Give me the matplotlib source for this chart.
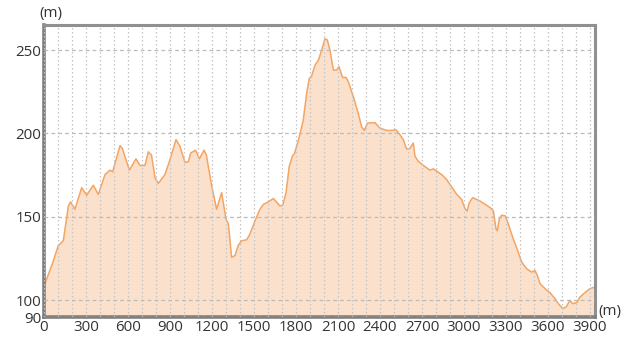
import numpy as np
import matplotlib
matplotlib.use("Agg")
import matplotlib.pyplot as plt
from matplotlib.ticker import MultipleLocator

# distance (m) and elevation (m)
dist = [0, 7, 60, 102, 138, 174, 190, 221, 269, 305, 352, 388, 436, 471, 490,
        543, 560, 610, 657, 686, 721, 745, 768, 793, 816, 864, 900, 943, 971,
        1007, 1031, 1048, 1083, 1110, 1143, 1160, 1198, 1233, 1269, 1300, 1317,
        1340, 1364, 1388, 1412, 1448, 1471, 1507, 1543, 1567, 1602, 1638, 1660,
        1686, 1705, 1729, 1752, 1776, 1790, 1824, 1852, 1876, 1895, 1910, 1936,
        1960, 1983, 2007, 2024, 2043, 2067, 2090, 2107, 2133, 2157, 2174, 2210,
        2245, 2269, 2288, 2310, 2364, 2400, 2448, 2483, 2514, 2543, 2567, 2590,
        2614, 2638, 2650, 2674, 2710, 2757, 2781, 2805, 2840, 2876, 2912, 2948,
        2983, 3007, 3022, 3038, 3062, 3090, 3114, 3150, 3186, 3210, 3229, 3238,
        3252, 3269, 3295, 3317, 3352, 3381, 3412, 3448, 3483, 3507, 3524, 3543,
        3579, 3614, 3650, 3674, 3705, 3729, 3757, 3776, 3805, 3829, 3864, 3900,
        3936]
elev = [109, 110, 122, 132.7, 135.7, 156.5, 159, 154.6, 167.5, 163, 169, 163.5,
        175.4, 178, 177, 192.7, 191, 178, 184.8, 180.8, 180.8, 189, 187, 173.5,
        170, 175.4, 184.3, 196.3, 192.3, 182.7, 183, 188.3, 190, 184.8, 190, 187,
        168.5, 154.6, 164.5, 148.6, 146, 125.8, 126.8, 133, 135.7, 136.3, 139.7,
        147.6, 154.6, 157.5, 159, 161, 159, 156.5, 157, 164.5, 180.4, 186.7, 188,
        198.2, 208, 224, 233, 234, 240.9, 243.9, 249.8, 256.8, 256, 249.8, 238,
        238, 240, 233.6, 233.6, 231, 222, 212, 204, 201.8, 206.2, 206.5, 203.2,
        201.8, 201.8, 202.2, 199.2, 196.2, 190.7, 191, 194.3, 186.3, 183.3, 180.8,
        178, 178.8, 177.4, 175.4, 172.4, 168, 163.5, 160.5, 155, 153.5, 158.6,
        161.5, 160.5, 159.5, 157.6, 155.6, 153.6, 142.7, 141.7, 148.6, 151, 150.6,
        145.7, 136.7, 130.4, 122.9, 118.9, 116.9, 117.9, 114.9, 110, 107, 104.6,
        101, 98, 95.1, 96, 100, 98, 98.6, 102, 104.6, 107, 108]

x_ticks = [0, 300, 600, 900, 1200, 1500, 1800, 2100, 2400, 2700, 3000, 3300, 3600, 3900]
y_ticks = [90, 100, 150, 200, 250]

plt.rcParams['font.family'] = ['Open Sans', 'DejaVu Sans']

fig = plt.figure(figsize=(6.32, 3.57), dpi=100)
ax = fig.add_axes([0.0696, 0.112, 0.8719, 0.818])

ax.fill_between(dist, elev, 0, color='#fbe1cc', lw=0)
ax.plot(dist, elev, color='#f5a562', lw=1.1)

ax.set_xlim(0, 3936)
ax.set_ylim(90, 265)
ax.set_xticks(x_ticks)
ax.set_yticks(y_ticks)
ax.xaxis.set_minor_locator(MultipleLocator(100))
ax.tick_params(which='both', length=0, labelsize=10.8, colors='#333333', pad=2)

ax.grid(axis='x', which='both', color='#c4c4c4', ls=(0, (1.2, 2)), lw=0.9)
ax.grid(axis='y', which='major', color='#bbbbbb', ls=(0, (3, 2.5)), lw=0.9)
ax.set_axisbelow(False)

for side in ['left', 'bottom']:
    ax.spines[side].set_color('#808080')
    ax.spines[side].set_linewidth(2.6)
for side in ['top', 'right']:
    ax.spines[side].set_color('#909090')
    ax.spines[side].set_linewidth(2.2)

fig.text(51 / 632, 1 - 13 / 357, '(m)', ha='center', va='center', fontsize=10.8, color='#333333')
fig.text(610 / 632, 1 - 312 / 357, '(m)', ha='center', va='center', fontsize=10.8, color='#333333')

fig.savefig('out.png', dpi=100)
